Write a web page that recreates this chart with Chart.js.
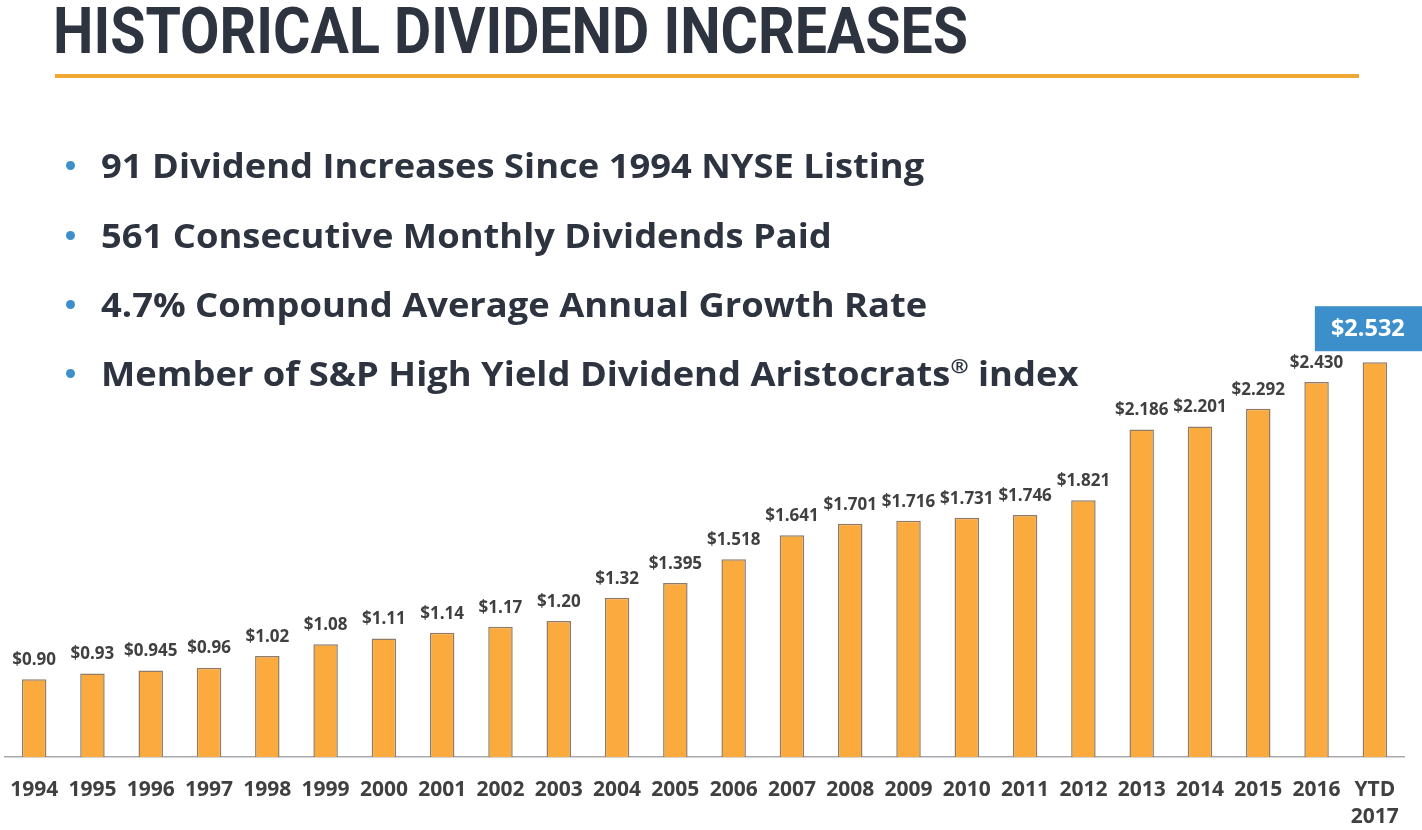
<!DOCTYPE html>
<html>
<head>
<meta charset="utf-8">
<script src="https://cdn.jsdelivr.net/npm/chart.js@4/dist/chart.umd.min.js"></script>
<style>
  html, body { margin: 0; padding: 0; background: #ffffff; }
  #wrap { position: relative; width: 1422px; height: 830px; overflow: hidden; background: #fff; }
  #chart { position: absolute; left: 0; top: 0; }
  #title { position: absolute; left: 53px; top: -6px; font-family: Roboto, "Liberation Sans", sans-serif; font-weight: 700;
           font-size: 64px; color: #2d333f; white-space: nowrap; transform-origin: 0 0; letter-spacing: 0px; }
  #rule { position: absolute; left: 55px; top: 74px; width: 1304px; height: 4px; background: #f0a835; }
  .bullet { position: absolute; left: 101px; font-family: "Open Sans", "Noto Sans", sans-serif; font-weight: 700;
            font-size: 34px; color: #2d333f; white-space: nowrap; transform-origin: 0 50%; line-height: 40px; }
  .dot { position: absolute; left: 66px; width: 9px; height: 9px; border-radius: 50%; background: #3d8fcb; }
  sup { font-size: 0.6em; vertical-align: 0.65em; line-height: 0; }
</style>
</head>
<body>
<div id="wrap">
  <canvas id="chart" width="1422" height="830"></canvas>
  <div id="title">HISTORICAL DIVIDEND INCREASES</div>
  <div id="rule"></div>
  <div class="dot" style="top:161px"></div>
  <div class="bullet" style="top:145px">91 Dividend Increases Since 1994 NYSE Listing</div>
  <div class="dot" style="top:231px"></div>
  <div class="bullet" style="top:215px">561 Consecutive Monthly Dividends Paid</div>
  <div class="dot" style="top:300px"></div>
  <div class="bullet" style="top:284px">4.7% Compound Average Annual Growth Rate</div>
  <div class="dot" style="top:369px"></div>
  <div class="bullet" style="top:353px">Member of S&amp;P High Yield Dividend Aristocrats<sup>®</sup> index</div>
</div>
<script>
// ---- data ----
const categories = ["1994","1995","1996","1997","1998","1999","2000","2001","2002","2003","2004","2005","2006","2007","2008","2009","2010","2011","2012","2013","2014","2015","2016",["YTD","2017"]];
const dividends = [0.90,0.93,0.945,0.96,1.02,1.08,1.11,1.14,1.17,1.20,1.32,1.395,1.518,1.641,1.701,1.716,1.731,1.746,1.821,2.186,2.201,2.292,2.430,2.532];
const valueLabels = ["$0.90","$0.93","$0.945","$0.96","$1.02","$1.08","$1.11","$1.14","$1.17","$1.20","$1.32","$1.395","$1.518","$1.641","$1.701","$1.716","$1.731","$1.746","$1.821","$2.186","$2.201","$2.292","$2.430","$2.532"];

// fit title & bullets to measured widths
const t = document.getElementById('title');
t.style.transform = 'scaleX(' + (915 / t.scrollWidth) + ')';
const b1 = document.querySelector('.bullet');
const s = 823 / b1.scrollWidth;
document.querySelectorAll('.bullet').forEach(el => { el.style.transform = 'scaleX(' + s + ')'; });

const labelPlugin = {
  id: 'valueLabels',
  afterDatasetsDraw(chart) {
    const ctx = chart.ctx;
    const meta = chart.getDatasetMeta(0);
    ctx.save();
    meta.data.forEach((bar, i) => {
      ctx.textAlign = 'center';
      ctx.textBaseline = 'middle';
      if (i === meta.data.length - 1) {
        ctx.fillStyle = '#3d8fcb';
        ctx.fillRect(bar.x - 60, bar.y - 56, 114, 45);
        ctx.fillStyle = '#ffffff';
        ctx.font = '700 23.5px "Open Sans", sans-serif';
        ctx.fillText(valueLabels[i], bar.x - 7, bar.y - 33);
      } else {
        ctx.fillStyle = '#404040';
        ctx.font = '700 17px "Open Sans", sans-serif';
        ctx.fillText(valueLabels[i], bar.x, bar.y - 19);
      }
    });
    ctx.restore();
  }
};

new Chart(document.getElementById('chart'), {
  type: 'bar',
  data: {
    labels: categories,
    datasets: [{
      data: dividends,
      backgroundColor: '#fbaa3e',
      borderColor: '#8f7b68',
      borderWidth: 1.5,
      borderSkipped: 'bottom',
      categoryPercentage: 1.0,
      barPercentage: 0.42
    }]
  },
  options: {
    responsive: false,
    animation: false,
    layout: { padding: { left: 5, right: 18, top: 349, bottom: 0 } },
    plugins: { legend: { display: false }, tooltip: { enabled: false } },
    scales: {
      y: { display: false, min: 0.5, max: 2.6 },
      x: {
        grid: { display: false, drawTicks: false },
        border: { display: true, color: '#a9a9b0', width: 1.5 },
        ticks: { color: '#404040', font: { family: '"Open Sans", sans-serif', weight: '700', size: 21, lineHeight: 1.3 }, padding: 19, maxRotation: 0, autoSkip: false },
        afterFit(scale) { scale.height = 73; scale.paddingLeft = 0; scale.paddingRight = 0; }
      }
    }
  },
  plugins: [labelPlugin]
});
</script>
</body>
</html>
